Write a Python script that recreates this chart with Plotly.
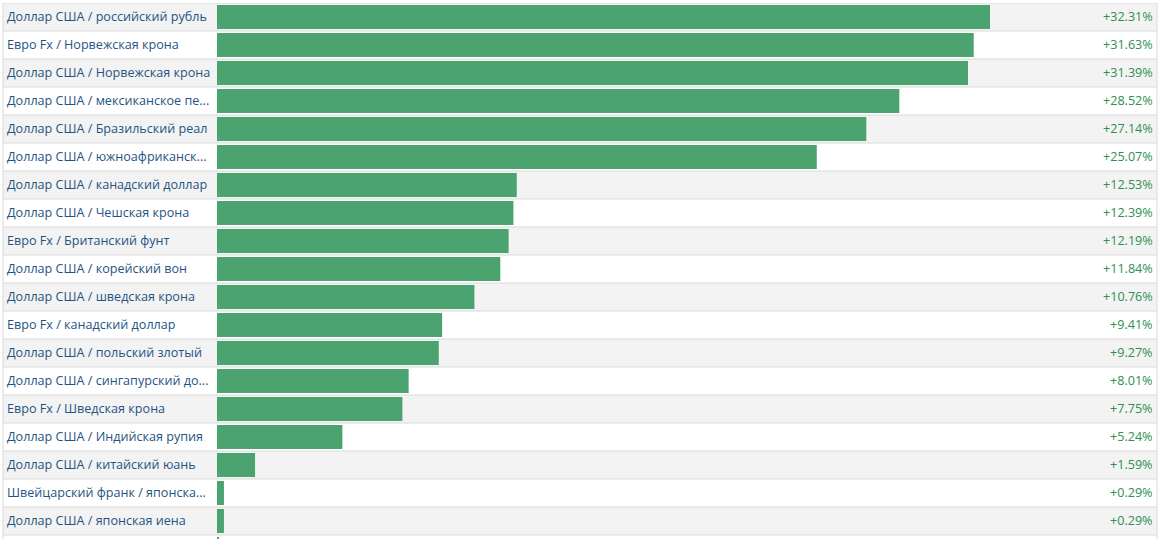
import plotly.graph_objects as go

# --- data ---------------------------------------------------------------------
pairs = [
    "Доллар США / российский рубль",
    "Евро Fx / Норвежская крона",
    "Доллар США / Норвежская крона",
    "Доллар США / мексиканское пе...",
    "Доллар США / Бразильский реал",
    "Доллар США / южноафриканск...",
    "Доллар США / канадский доллар",
    "Доллар США / Чешская крона",
    "Евро Fx / Британский фунт",
    "Доллар США / корейский вон",
    "Доллар США / шведская крона",
    "Евро Fx / канадский доллар",
    "Доллар США / польский злотый",
    "Доллар США / сингапурский до...",
    "Евро Fx / Шведская крона",
    "Доллар США / Индийская рупия",
    "Доллар США / китайский юань",
    "Швейцарский франк / японска...",
    "Доллар США / японская иена",
    "",  # next row, cut off at the bottom of the picture
]
change_pct = [32.31, 31.63, 31.39, 28.52, 27.14, 25.07, 12.53, 12.39, 12.19, 11.84,
              10.76, 9.41, 9.27, 8.01, 7.75, 5.24, 1.59, 0.29, 0.29, 0.08]

# --- geometry (pixels) --------------------------------------------------------
W, H = 1166, 539
TABLE_L, TABLE_R, TABLE_T = 3, 1157, 3
BAR_X0 = 217          # pixel where 0 % sits
PX_PER_PCT = (990 - BAR_X0) / 32.31
ROW_H = 28

BAR_COLOR = "#4ba36f"
LABEL_COLOR = "#1f5483"
VALUE_COLOR = "#2f8f50"
STRIPE = "#f3f3f3"
RULE = "#dadada"
FONT_SIZE = 12.6

keys = [f"r{i}" for i in range(len(pairs))]
n_rows = len(keys)

fig = go.Figure(
    go.Bar(
        y=keys,
        x=change_pct,
        orientation="h",
        marker=dict(color=BAR_COLOR, line=dict(width=0)),
        width=24 / ROW_H,
        hoverinfo="skip",
    )
)

# striped row backgrounds and separators
shapes = []
for i in range(n_rows):
    if i % 2 == 0:
        shapes.append(dict(type="rect", xref="paper", yref="y", x0=0, x1=1,
                           y0=i - 0.5, y1=i + 0.5, fillcolor=STRIPE,
                           line_width=0, layer="below"))
    shapes.append(dict(type="line", xref="paper", yref="y", x0=0, x1=1,
                       y0=i - 0.5, y1=i - 0.5, line=dict(color=RULE, width=1),
                       layer="below"))
for xp in (0, 1):
    shapes.append(dict(type="line", xref="paper", yref="paper", x0=xp, x1=xp,
                       y0=0, y1=1, line=dict(color=RULE, width=1), layer="below"))

annotations = []
for k, name, v in zip(keys, pairs, change_pct):
    if not name:
        continue
    annotations.append(dict(xref="paper", yref="y", x=0, y=k, xanchor="left",
                            xshift=2, yshift=1, text=name, showarrow=False,
                            font=dict(color=LABEL_COLOR, size=FONT_SIZE)))
    annotations.append(dict(xref="paper", yref="y", x=1, y=k, xanchor="right",
                            xshift=-2, yshift=1, text=f"+{v:.2f}%", showarrow=False,
                            font=dict(color=VALUE_COLOR, size=FONT_SIZE)))

x_lo = -(BAR_X0 - TABLE_L) / PX_PER_PCT
x_hi = (TABLE_R - BAR_X0) / PX_PER_PCT
y_bottom = -0.5 + (H - TABLE_T) / ROW_H

fig.update_layout(
    width=W,
    height=H,
    margin=dict(l=TABLE_L, r=W - TABLE_R, t=TABLE_T, b=0, pad=0),
    paper_bgcolor="white",
    plot_bgcolor="white",
    showlegend=False,
    hovermode=False,
    font=dict(family="Open Sans", size=FONT_SIZE),
    xaxis=dict(range=[x_lo, x_hi], visible=False, fixedrange=True),
    yaxis=dict(range=[y_bottom, -0.5], visible=False, fixedrange=True,
               categoryorder="array", categoryarray=keys),
    shapes=shapes,
    annotations=annotations,
)

# drop the browser's default page margin so the table sits flush at the top-left
fig.write_html(
    "out.html",
    config={"displayModeBar": False},
    post_script="document.body.style.margin='0';document.body.style.overflow='hidden';",
)
